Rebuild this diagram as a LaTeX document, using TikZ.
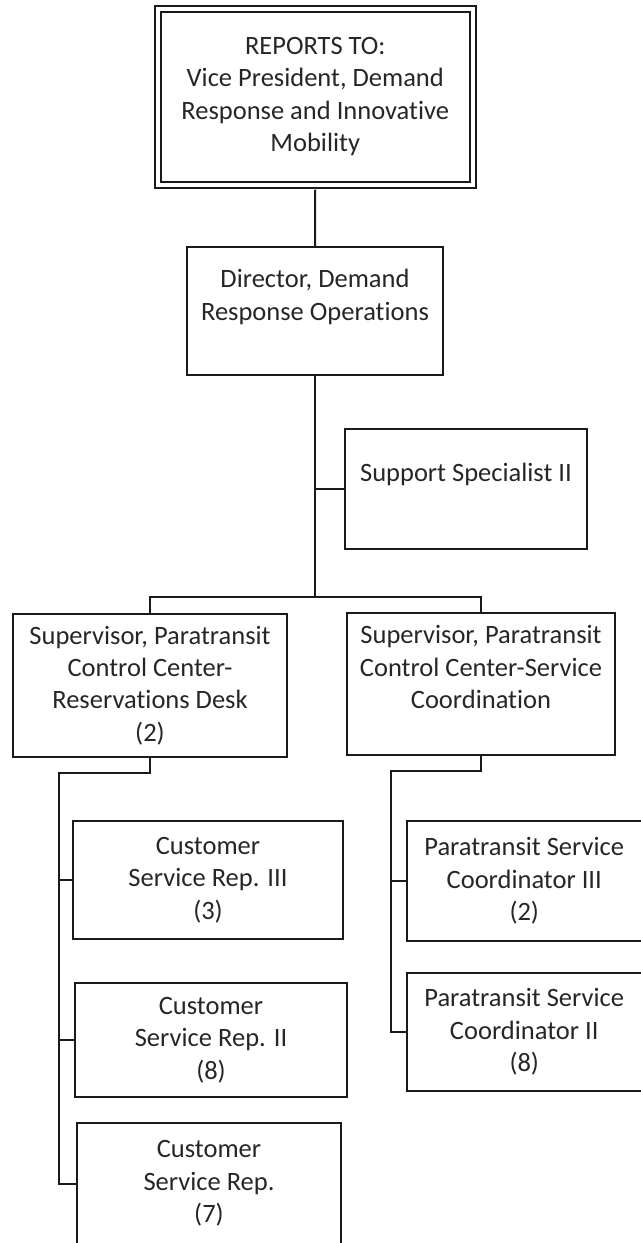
\documentclass[tikz,border=0pt]{standalone}
\usepackage{fontspec}
\setmainfont{Carlito}[Ligatures={NoCommon}]
\usetikzlibrary{fit,calc}
\definecolor{inkline}{HTML}{1A1A1A}
\definecolor{inktext}{HTML}{262626}
\newcommand\orgfont{\fontsize{13.25}{16.2}\selectfont}
\begin{document}
\begin{tikzpicture}[x=0.5pt,y=-0.5pt,
  box/.style={draw=inkline, line width=1pt, inner sep=0pt},
  outerbox/.style={box, double=white, double distance=2pt},
  txt/.style={align=center, font=\orgfont, text=inktext, inner sep=0pt},
  link/.style={draw=inkline, line width=1pt}]
\useasboundingbox (0,0) rectangle (641,1243);

% top of the chart
\node[outerbox, fit={(158,8.5) (472.5,184.5)},
  label={[txt]center:{REPORTS TO:\\Vice President, Demand\\Response and Innovative\\Mobility}}] (vp) {};

\node[box, fit={(187,247) (443,375)}] (dir) {};
\node[txt] (dirtext) at (315,297) {Director, Demand\\Response Operations};

\node[box, fit={(345,429) (587,549)}] (supp) {};
\node[txt] (supptext) at (466,474) {Support Specialist II};

% supervisors
\node[box, fit={(13,614) (287,757)},
  label={[txt]center:{Supervisor, Paratransit\\Control Center-\\Reservations Desk\\(2)}}] (supres) {};
\node[box, fit={(347,613) (615,755)}] (supsvc) {};
\node[txt] (supsvctext) at (481,667)
  {Supervisor, Paratransit\\Control Center-Service\\Coordination};

% reservations staff
\node[box, fit={(73,821) (343,939)},
  label={[txt]center:{Customer\\Service Rep. III\\(3)}}] (csr3) {};
\node[box, fit={(75,983) (347,1097)},
  label={[txt]center:{Customer\\Service Rep. II\\(8)}}] (csr2) {};
\node[box, fit={(77,1123) (341,1244)},
  label={[txt]center:{Customer\\Service Rep.\\(7)}}] (csr1) {};

% service coordination staff
\node[box, fit={(407,821) (641.5,941)},
  label={[txt]center:{Paratransit Service\\Coordinator III\\(2)}}] (psc3) {};
\node[box, fit={(407,973) (641.5,1091)},
  label={[txt]center:{Paratransit Service\\Coordinator II\\(8)}}] (psc2) {};

% connectors
\draw[link] ([yshift=-2pt]vp.south) -- (dir.north);
\coordinate (jsup) at (315,597);
\draw[link] (dir.south) -- (jsup);
\draw[link] (dir.south |- supp.west) -- (supp.west);
\draw[link] (supres.north) |- (jsup) -| (supsvc.north);

\coordinate (lbus) at (59,773);
\draw[link] (supres.south) |- (lbus) |- (csr1.west);
\draw[link] (lbus |- csr3.west) -- (csr3.west);
\draw[link] (lbus |- csr2.west) -- (csr2.west);

\coordinate (rbus) at (391,771);
\draw[link] (supsvc.south) |- (rbus) |- (psc2.west);
\draw[link] (rbus |- psc3.west) -- (psc3.west);
\end{tikzpicture}
\end{document}
